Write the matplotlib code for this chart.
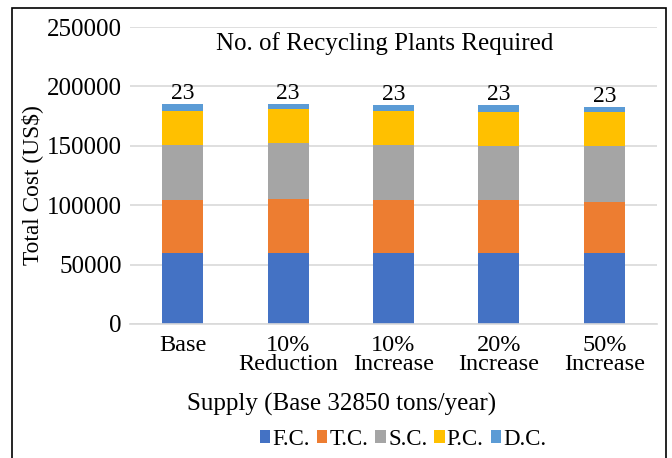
import matplotlib.pyplot as plt
from matplotlib.patches import Rectangle

plt.rcParams['font.family'] = ['Liberation Serif', 'DejaVu Serif']

# scenarios and cost components (US$)
scenarios = ['Base', '10%\nReduction', '10%\nIncrease', '20%\nIncrease', '50%\nIncrease']
fc = [59600, 59600, 59600, 59600, 59600]
tc = [44500, 45400, 44500, 44500, 43400]
sc = [46500, 47000, 46700, 45600, 46700]
pc = [29000, 28700, 28800, 29000, 29000]
dc = [5400, 4300, 4500, 5400, 4300]
plants = [23, 23, 23, 23, 23]

series = [('F.C.', fc, '#4472c4'), ('T.C.', tc, '#ed7d31'), ('S.C.', sc, '#a5a5a5'),
          ('P.C.', pc, '#ffc000'), ('D.C.', dc, '#5b9bd5')]

fig = plt.figure(figsize=(6.72, 4.58), dpi=100)
ax = fig.add_axes([0.1935, 0.2926, 0.7842, 0.6484])

x = range(len(scenarios))
bottom = [0] * len(scenarios)
for name, vals, col in series:
    ax.bar(x, vals, 0.39, bottom=bottom, color=col, label=name, zorder=2)
    bottom = [b + v for b, v in zip(bottom, vals)]

# plant count above each stack
for i, (tot, n) in enumerate(zip(bottom, plants)):
    ax.annotate(str(n), (i, tot), xytext=(0, 0), textcoords='offset points',
                ha='center', va='bottom', fontsize=17)

ax.set_xlim(-0.5, len(scenarios) - 0.5)
ax.set_ylim(0, 250000)
ax.set_yticks(range(0, 250001, 50000))
ax.yaxis.grid(True, color='#d9d9d9', linewidth=1.2, zorder=0)
ax.set_xticks(list(x))
ax.set_xticklabels(scenarios, fontsize=17.5, linespacing=0.88)
ax.tick_params(axis='y', labelsize=18, length=0, pad=6)
ax.tick_params(axis='x', length=0, pad=8)
for s in ['top', 'right', 'left']:
    ax.spines[s].set_visible(False)
ax.spines['bottom'].set_color('#d9d9d9')
ax.spines['bottom'].set_linewidth(1.2)

ax.set_ylabel('Total Cost (US$)', fontsize=16.8)
ax.yaxis.set_label_coords(-0.165, 0.468)
fig.text(0.573, 0.906, 'No. of Recycling Plants Required', ha='center', va='center', fontsize=18)
fig.text(0.509, 0.116, 'Supply (Base 32850 tons/year)', ha='center', va='center', fontsize=18)

fig.legend(loc='center', bbox_to_anchor=(0.6, 0.041), ncol=5, frameon=False, fontsize=16.5,
           handlelength=0.45, handleheight=0.45, handletextpad=0.1, columnspacing=0.3)

# outer frame
fig.patches.append(Rectangle((12 / 672, -0.1), 654 / 672, 1.1 - 8 / 458, transform=fig.transFigure,
                             fill=False, edgecolor='black', linewidth=1.2))

fig.savefig('out.png', dpi=100)
